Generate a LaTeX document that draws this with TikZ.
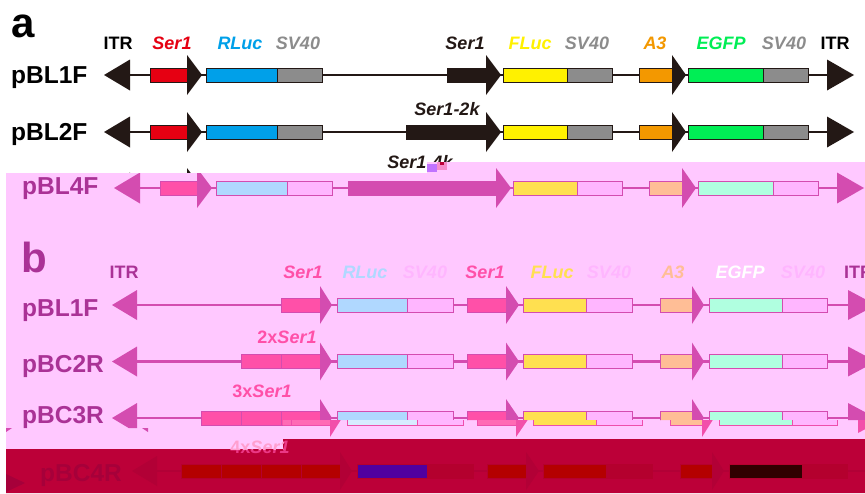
\documentclass[tikz,border=0pt]{standalone}
\usepackage{fontspec}
\setmainfont{Liberation Sans}
\newcommand\gbox[4]{\filldraw[fill=#4,draw=cOut,line width=0.8pt] (#1,#3-7) rectangle (#2,#3+7);}
\newcommand\hd[4]{\fill[cArr] (#1,#3-#4) -- (#2,#3) -- (#1,#3+#4) -- cycle;}
\newcommand\rowA[2]{%
  \draw[cArr,line width=2pt] (128,#1) -- (830,#1);
  \hd{130}{104}{#1}{15.5}
  \gbox{150}{188}{#1}{cRed}\hd{187}{202}{#1}{20}
  \gbox{206}{277}{#1}{cBlue}\gbox{277}{322}{#1}{cGray}
  \fill[cArr] (#2,#1-7.5) rectangle (487,#1+7.5);\hd{486}{501}{#1}{20}
  \gbox{503}{567}{#1}{cYel}\gbox{567}{612}{#1}{cGray}
  \gbox{639}{673}{#1}{cOra}\hd{672}{686}{#1}{20}
  \gbox{688}{763}{#1}{cGrn}\gbox{763}{808}{#1}{cGray}
  \hd{827}{854}{#1}{15.5}}
\newcommand\rowB[2]{%
  \draw[cArr,line width=2.2pt] (135,#1) -- (850,#1);
  \hd{137}{112}{#1}{15}
  \foreach \k in {1,...,#2}{\gbox{321-40*\k}{361-40*\k}{#1}{cRed}}
  \hd{320}{332}{#1}{19}
  \gbox{337}{407}{#1}{cBlue}\gbox{407}{453}{#1}{cGray}
  \gbox{467}{507}{#1}{cRed}\hd{506}{519}{#1}{19}
  \gbox{523}{586}{#1}{cYel}\gbox{586}{632}{#1}{cGray}
  \gbox{660}{693}{#1}{cOra}\hd{692}{704}{#1}{19}
  \gbox{709}{782}{#1}{cGrn}\gbox{782}{827}{#1}{cGray}
  \hd{848}{876}{#1}{15}}
\definecolor{oA}{RGB}{35,24,21}
\definecolor{redA}{RGB}{230,0,18}
\definecolor{blueA}{RGB}{0,160,233}
\definecolor{grayA}{RGB}{140,140,140}
\definecolor{yelA}{RGB}{255,241,0}
\definecolor{oraA}{RGB}{243,152,0}
\definecolor{grnA}{RGB}{0,238,85}
\definecolor{pinkBG}{RGB}{255,200,255}
\definecolor{magP}{RGB}{212,76,176}
\definecolor{labP}{RGB}{170,50,150}
\definecolor{redP}{RGB}{255,80,168}
\definecolor{blueP}{RGB}{176,216,255}
\definecolor{grayP}{RGB}{255,182,255}
\definecolor{yelP}{RGB}{255,224,80}
\definecolor{oraP}{RGB}{255,190,150}
\definecolor{grnP}{RGB}{176,255,224}
\definecolor{darkBG}{RGB}{188,0,56}
\definecolor{arrD}{RGB}{178,0,54}
\definecolor{redD}{RGB}{180,0,0}
\definecolor{blueD}{RGB}{80,0,160}
\definecolor{grayD}{RGB}{180,0,46}
\definecolor{grnD}{RGB}{48,0,0}
\definecolor{labD}{RGB}{166,0,58}
\begin{document}
\begin{tikzpicture}[x=1pt,y=-1pt,
  lab/.style={inner sep=0pt,font=\fontsize{18}{18}\selectfont\bfseries\itshape,anchor=base},
  ulab/.style={inner sep=0pt,font=\fontsize{18}{18}\selectfont\bfseries,anchor=base},
  rlab/.style={inner sep=0pt,font=\fontsize{24.5}{24.5}\selectfont\bfseries,anchor=base west},
  big/.style={inner sep=0pt,font=\fontsize{42}{42}\selectfont\bfseries,anchor=base west}]
\useasboundingbox (0,0) rectangle (865,493);
\fill[white] (0,0) rectangle (865,493);
% ---------------- panel a (original colours)
\begin{scope}
\colorlet{cArr}{oA}\colorlet{cOut}{oA}\colorlet{cRed}{redA}\colorlet{cBlue}{blueA}
\colorlet{cGray}{grayA}\colorlet{cYel}{yelA}\colorlet{cOra}{oraA}\colorlet{cGrn}{grnA}
\node[big] (pa) at (11,37) {a};
\node[ulab] (t1) at (118,49) {ITR};
\node[lab,text=redA] (t2) at (172,49) {Ser1};
\node[lab,text=blueA] (t3) at (240,49) {RLuc};
\node[lab,text=grayA] (t4) at (298,49) {SV40};
\node[lab,text=oA] (t5) at (465,49) {Ser1};
\node[lab,text=yelA] (t6) at (530,49) {FLuc};
\node[lab,text=grayA] (t7) at (587,49) {SV40};
\node[lab,text=oraA] (t8) at (655,49) {A3};
\node[lab,text=grnA] (t9) at (721,49) {EGFP};
\node[lab,text=grayA] (t10) at (784,49) {SV40};
\node[ulab] (t11) at (835,49) {ITR};
\node[rlab] (r1) at (11,83) {pBL1F};
\node[rlab] (r2) at (11,140) {pBL2F};
\rowA{75}{447}
\rowA{132}{406}
\rowA{188}{338}
\node[lab,text=oA] (s2) at (447,115) {Ser1-2k};
\node[lab,text=oA] (s4) at (420,168) {Ser1-4k};
\end{scope}
% ---------------- pink region
\fill[pinkBG] (6,173) -- (427,173) -- (427,162) -- (865,162) -- (865,439) -- (283,439) -- (283,449) -- (6,449) -- cycle;
\begin{scope}
\clip (6,173) -- (427,173) -- (427,162) -- (865,162) -- (865,420) -- (283,420) -- (283,428) -- (6,428) -- cycle;
\colorlet{cArr}{magP}\colorlet{cOut}{magP}\colorlet{cRed}{redP}\colorlet{cBlue}{blueP}
\colorlet{cGray}{grayP}\colorlet{cYel}{yelP}\colorlet{cOra}{oraP}\colorlet{cGrn}{grnP}
\node[rlab,text=labP] (r3) at (22,194) {pBL4F};
\begin{scope}[xshift=10pt]
\rowA{188}{338}
\end{scope}
\node[big,text=labP] (pb) at (21,272) {b};
\node[ulab,text=labP] (u1) at (124,278) {ITR};
\node[lab,text=redP] (u2) at (303,278) {Ser1};
\node[lab,text=blueP] (u3) at (365,278) {RLuc};
\node[lab,text=grayP] (u4) at (425,278) {SV40};
\node[lab,text=redP] (u5) at (485,278) {Ser1};
\node[lab,text=yelP] (u6) at (552,278) {FLuc};
\node[lab,text=grayP] (u7) at (609,278) {SV40};
\node[lab,text=oraP] (u8) at (673,278) {A3};
\node[lab,text=white] (u9) at (740,278) {EGFP};
\node[lab,text=grayP] (u10) at (803,278) {SV40};
\node[ulab,text=labP,anchor=base west] (u11) at (844,278) {ITR};
\node[rlab,text=labP] (q1) at (22,316) {pBL1F};
\node[rlab,text=labP] (q2) at (22,372) {pBC2R};
\node[rlab,text=labP] (q3) at (22,423) {pBC3R};
\node[lab,text=redP] (x2) at (287,343) {\upshape 2x\itshape Ser1};
\node[lab,text=redP] (x3) at (262,397) {\upshape 3x\itshape Ser1};
\rowB{305}{1}
\rowB{361.5}{2}
\rowB{418}{3}
\end{scope}
% glitch copy of pBC3R lower half
\begin{scope}
\clip (283,420) rectangle (865,439);
\colorlet{cArr}{redP!70!magP}\colorlet{cOut}{redP!60!magP}\colorlet{cRed}{redP!85!white}\colorlet{cBlue}{blueP!50!white}
\colorlet{cGray}{grayP}\colorlet{cYel}{yelP}\colorlet{cOra}{oraP}\colorlet{cGrn}{grnP}
\begin{scope}[xshift=10pt]
\rowB{418}{3}
\end{scope}
\end{scope}
\fill[magP] (6,428) -- (12,428) -- (6,432) -- cycle;
\fill[magP] (142,428) -- (148,428) -- (148,432) -- cycle;
% ---------------- dark band
\fill[darkBG] (6,449) -- (283,449) -- (283,439) -- (865,439) -- (865,493) -- (6,493) -- cycle;
\begin{scope}
\clip (6,449) -- (283,449) -- (283,439) -- (865,439) -- (865,493) -- (6,493) -- cycle;
\colorlet{cArr}{arrD}\colorlet{cOut}{grayD}\colorlet{cRed}{redD}\colorlet{cBlue}{blueD}
\colorlet{cGray}{grayD}\colorlet{cYel}{redD}\colorlet{cOra}{redD}\colorlet{cGrn}{grnD}
\node[rlab,text=labD] (q4) at (40,481) {pBC4R};
\begin{scope}[xshift=20pt]
\rowB{471}{4}
\end{scope}
\fill[labD] (6,474) -- (25,483) -- (6,492) -- cycle;
\node[lab,text=redP!70!darkBG] (x4d) at (260,453) {\upshape 4x\itshape Ser1};
\end{scope}
\begin{scope}
\clip (6,428) rectangle (283,449);
\node[lab,text=redP!55!white] (x4p) at (260,453) {\upshape 4x\itshape Ser1};
\end{scope}
% small glitch squares near Ser1-4k
\fill[blue!45!magenta!55!white] (427,164) rectangle (437,172);
\fill[magenta!45!white] (437,162) rectangle (447,170);
\fill[darkBG] (440,162) rectangle (444,165);
\end{tikzpicture}
\end{document}
